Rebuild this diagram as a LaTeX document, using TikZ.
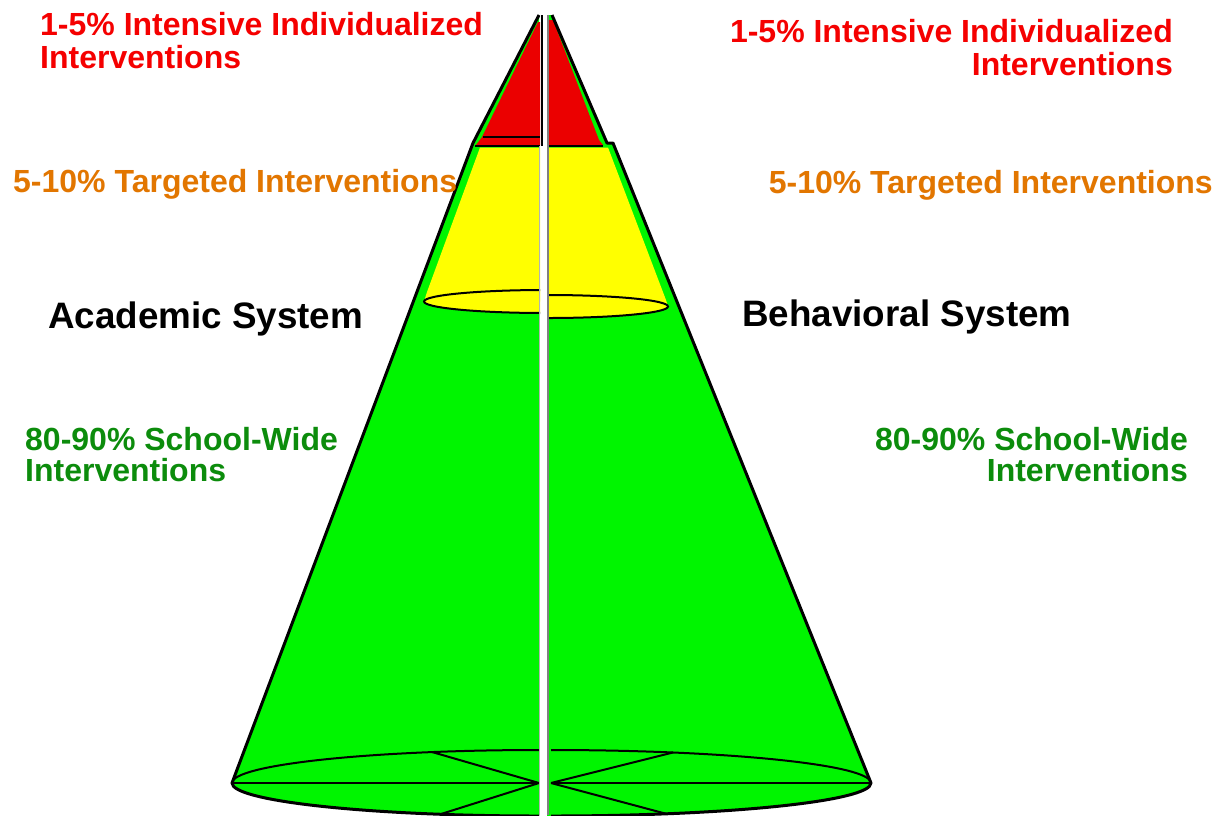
\documentclass[tikz,border=0pt]{standalone}
\usepackage{fontspec}
\setmainfont{Liberation Sans}
\definecolor{conegreen}{RGB}{0,245,0}
\definecolor{conered}{RGB}{235,0,0}
\definecolor{coneyellow}{RGB}{255,255,0}
\definecolor{txtred}{RGB}{245,0,0}
\definecolor{txtorange}{RGB}{226,118,0}
\definecolor{txtgreen}{RGB}{12,140,12}
\begin{document}
\begin{tikzpicture}[x=1pt,y=-1pt,
  outline/.style={draw=black,line width=3pt,line join=round},
  thinline/.style={draw=black,line width=2pt},
  lbl/.style={inner sep=0pt,font=\bfseries\fontsize{32}{33}\selectfont},
  grnlbl/.style={inner sep=0pt,font=\bfseries\fontsize{32}{31}\selectfont,text=txtgreen},
  syslbl/.style={inner sep=0pt,font=\bfseries\fontsize{36.8}{40}\selectfont,text=black}]
\useasboundingbox (0,0) rectangle (1225,815);
\fill[white] (0,0) rectangle (1225,815);

% ---------- left half (academic) ----------
\begin{scope}
\clip (0,0) rectangle (540,820);
\fill[conegreen] (539,15) -- (473,143) -- (232,783)
  arc[start angle=180,end angle=90,x radius=307,y radius=33] -- cycle;
\fill[conered] (538,22) -- (482,137) -- (476,145) -- (540,145) -- (540,22) -- cycle;
\draw[thinline] (483,137) -- (540,137);
\draw[thinline] (475,145.5) -- (540,145.5);
\fill[coneyellow] (480,147.5) -- (541,147.5) -- (541,301.5) -- (424,301.5) -- (427,292) -- cycle;
\fill[coneyellow] (545,301.5) ellipse[x radius=121,y radius=11.5];
\draw[thinline] (545,301.5) ellipse[x radius=121,y radius=11.5];
% base
\draw[thinline] (232,783) arc[start angle=180,end angle=270,x radius=307,y radius=33];
\draw[thinline] (232,783) -- (539,783);
\draw[thinline] (539,783) -- (432,752);
\draw[thinline] (539,783) -- (441,814);
\draw[outline] (539,15) -- (473,143) -- (232,783)
  arc[start angle=180,end angle=90,x radius=307,y radius=33];
\end{scope}

% ---------- right half (behavioral) ----------
\begin{scope}
\clip (547,0) rectangle (1225,820);
\fill[conegreen] (547,15) -- (552,15) -- (607,143) -- (613,143) -- (871,783)
  arc[start angle=0,end angle=90,x radius=320,y radius=33] -- (547,816) -- cycle;
\fill[conered] (547,20) -- (553,20) -- (599,140) -- (603,145) -- (547,145) -- cycle;
\draw[thinline] (547,145.5) -- (603,145.5);
\fill[coneyellow] (547,147.5) -- (608,147.5) -- (666,300) -- (668,306.5) -- (547,306.5) -- cycle;
\fill[coneyellow] (548,306.5) ellipse[x radius=120,y radius=11.5];
\draw[thinline] (548,306.5) ellipse[x radius=120,y radius=11.5];
% base
\draw[thinline] (871,783) arc[start angle=360,end angle=270,x radius=320,y radius=33];
\draw[thinline] (551,783) -- (871,783);
\draw[thinline] (551,783) -- (673,752.5);
\draw[thinline] (551,783) -- (667,814);
\draw[outline] (552,15) -- (607,143) -- (613,143) -- (871,783)
  arc[start angle=0,end angle=90,x radius=320,y radius=33];
\end{scope}

% ---------- centre divider ----------
\draw[black,line width=2pt] (541.5,15) -- (541.5,146);
\draw[gray,line width=1.6pt] (548,15) -- (548,815);
\draw[gray!60,line width=1pt] (539.5,146) -- (539.5,815);

% ---------- labels (base anchor = baseline of last line) ----------
\node[lbl,text=txtred,anchor=base west,align=left] (redL) at (40,68)
  {1-5\% Intensive Individualized\\Interventions};
\node[lbl,text=txtred,anchor=base east,align=right] (redR) at (1173,75)
  {1-5\% Intensive Individualized\\Interventions};
\node[lbl,text=txtorange,anchor=base west] (orgL) at (13,192) {5-10\% Targeted Interventions};
\node[lbl,text=txtorange,anchor=base east] (orgR) at (1213,193) {5-10\% Targeted Interventions};
\node[syslbl,anchor=base west] (acad) at (48,328) {Academic System};
\node[syslbl,anchor=base west] (behav) at (742,326) {Behavioral System};
\node[grnlbl,anchor=base west,align=left] (grnL) at (25,481)
  {80-90\% School-Wide\\Interventions};
\node[grnlbl,anchor=base east,align=right] (grnR) at (1188,481)
  {80-90\% School-Wide\\Interventions};
\end{tikzpicture}
\end{document}
